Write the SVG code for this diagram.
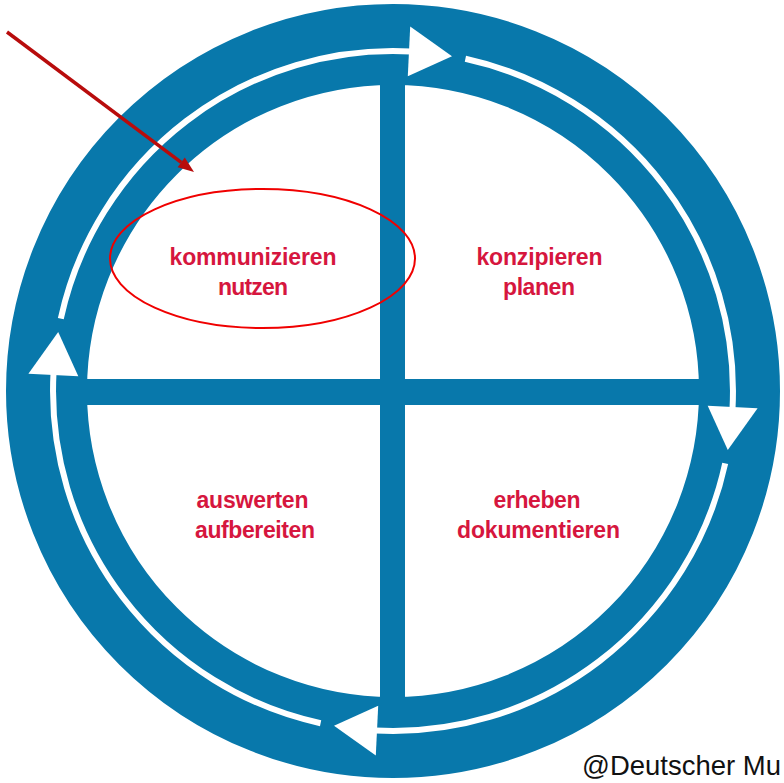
<svg xmlns="http://www.w3.org/2000/svg" xmlns:xlink="http://www.w3.org/1999/xlink" width="784" height="783" viewBox="0 0 784 783">
  <style>
    .blue { fill: #0878ab; }
    .lbl { font-family: "Liberation Sans", Arial, sans-serif; font-weight: bold; font-size: 23px; fill: #d6163e; text-anchor: middle; }
    .cyc { fill: none; stroke: #ffffff; stroke-width: 6; }
    .head { fill: #ffffff; }
    .credit { font-family: "Liberation Sans", Arial, sans-serif; font-size: 28px; fill: #111111; }
  </style>
  <defs>
    <g id="cycseg">
      <path class="cyc" d="M465.4,58.8 A340,340 0 0 1 732.5,408.8"/>
      <polygon class="head" points="410.2,26.4 452.0,56.2 407.8,76.3"/>
    </g>
  </defs>
  <rect width="784" height="783" fill="#ffffff"/>

  <g id="ring">
    <circle cx="393" cy="391" r="346.5" fill="none" stroke="#0878ab" stroke-width="81"/>
  </g>

  <g id="cross">
    <rect class="blue" x="380" y="80" width="25" height="622"/>
    <rect class="blue" x="80" y="379" width="625" height="26"/>
  </g>

  <g id="connectors">
    <use xlink:href="#cycseg"/>
    <use xlink:href="#cycseg" transform="rotate(90 393 391)"/>
    <use xlink:href="#cycseg" transform="rotate(180 393 391)"/>
    <use xlink:href="#cycseg" transform="rotate(270 393 391)"/>
    <line x1="7" y1="32" x2="181.2" y2="162.4" stroke="#b80c0c" stroke-width="3.5"/>
    <polygon points="194,172 177.6,167.2 184.8,157.6" fill="#b80c0c"/>
  </g>

  <g id="node-kommunizieren">
    <ellipse cx="262.5" cy="258.5" rx="152.5" ry="69.5" fill="none" stroke="#f00000" stroke-width="2"/>
    <text class="lbl" x="253" y="265" textLength="167" lengthAdjust="spacing">kommunizieren</text>
    <text class="lbl" x="253" y="295" textLength="70" lengthAdjust="spacing">nutzen</text>
  </g>

  <g id="node-konzipieren">
    <text class="lbl" x="539.5" y="265" textLength="126" lengthAdjust="spacing">konzipieren</text>
    <text class="lbl" x="539" y="295" textLength="72" lengthAdjust="spacing">planen</text>
  </g>

  <g id="node-auswerten">
    <text class="lbl" x="252.5" y="508" textLength="112" lengthAdjust="spacing">auswerten</text>
    <text class="lbl" x="255" y="538" textLength="120" lengthAdjust="spacing">aufbereiten</text>
  </g>

  <g id="node-erheben">
    <text class="lbl" x="537" y="508" textLength="87" lengthAdjust="spacing">erheben</text>
    <text class="lbl" x="538.5" y="538" textLength="163" lengthAdjust="spacing">dokumentieren</text>
  </g>

  <text class="credit" x="582" y="775" textLength="199" lengthAdjust="spacingAndGlyphs">@Deutscher Mu</text>
</svg>
